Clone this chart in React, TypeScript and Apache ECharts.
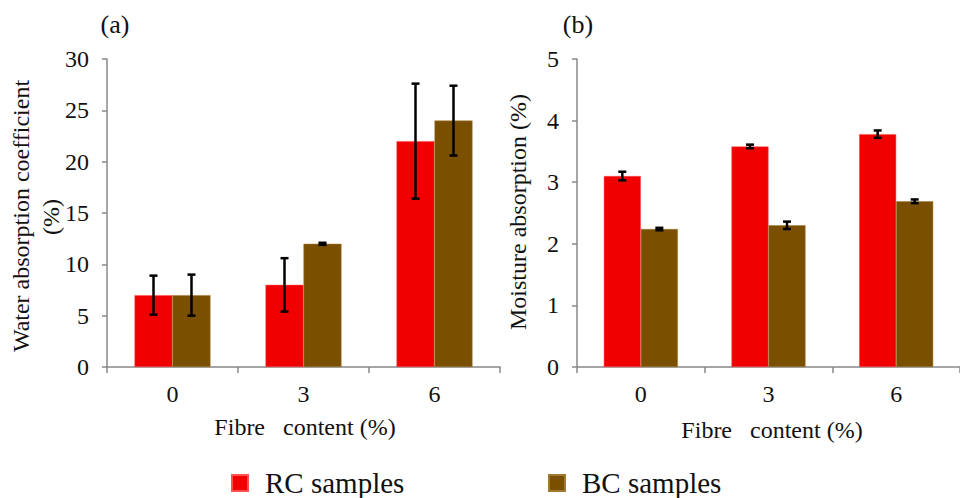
import React, { useEffect, useRef } from "react";
import * as echarts from "echarts";

const categories = ["0", "3", "6"];
const seriesNames = ["RC samples", "BC samples"];
const waterRC = [7, 8, 22];
const waterRCErr = [1.9, 2.6, 5.6];
const waterBC = [7, 12, 24];
const waterBCErr = [2.0, 0.1, 3.4];
const moistRC = [3.1, 3.58, 3.78];
const moistRCErr = [0.07, 0.03, 0.06];
const moistBC = [2.24, 2.3, 2.69];
const moistBCErr = [0.02, 0.06, 0.03];
const yTicksA = [0, 5, 10, 15, 20, 25, 30];
const yTicksB = [0, 1, 2, 3, 4, 5];

const FONT = "Liberation Serif";
const RED = "#f00000";
const BROWN = "#7a4f00";
const AXIS = "#888888";
const BAR_FRAC = 0.29;
const XNAME = "Fibre\u00a0\u00a0 content (%)";

function errData(vals: number[], errs: number[]) {
  return vals.map((v, i) => [i, v - errs[i], v + errs[i]]);
}

function errSeries(vals: number[], errs: number[], sign: number, gi: number) {
  return {
    type: "custom",
    xAxisIndex: gi,
    yAxisIndex: gi,
    silent: true,
    z: 10,
    encode: { x: 0, y: [1, 2] },
    data: errData(vals, errs),
    renderItem: (params: any, api: any) => {
      const idx = api.value(0);
      const lo = api.coord([idx, api.value(1)]);
      const hi = api.coord([idx, api.value(2)]);
      const band = api.size([1, 0])[0];
      const x = lo[0] + (sign * band * BAR_FRAC) / 2;
      const cap = 4;
      const style = { stroke: "#000", lineWidth: 2.5 };
      return {
        type: "group",
        children: [
          { type: "line", shape: { x1: x, y1: lo[1], x2: x, y2: hi[1] }, style },
          { type: "line", shape: { x1: x - cap, y1: lo[1], x2: x + cap, y2: lo[1] }, style },
          { type: "line", shape: { x1: x - cap, y1: hi[1], x2: x + cap, y2: hi[1] }, style },
        ],
      };
    },
  };
}

function xAxis(gi: number) {
  return {
    type: "category",
    gridIndex: gi,
    data: categories,
    boundaryGap: true,
    axisLine: { lineStyle: { color: AXIS, width: 1.5 } },
    axisTick: { show: true, interval: 0, length: 6, lineStyle: { color: AXIS, width: 1.5 } },
    axisLabel: { color: "#111", fontFamily: FONT, fontSize: 24, margin: 15 },
  };
}

function yAxis(gi: number, ticks: number[]) {
  return {
    type: "value",
    gridIndex: gi,
    min: ticks[0],
    max: ticks[ticks.length - 1],
    interval: ticks[1] - ticks[0],
    splitLine: { show: false },
    axisLine: { show: true, lineStyle: { color: AXIS, width: 1.5 } },
    axisTick: { show: true, length: 5, lineStyle: { color: AXIS, width: 1.5 } },
    axisLabel: { color: "#111", fontFamily: FONT, fontSize: 24, margin: 18 },
  };
}

function bar(name: string, data: number[], color: string, gi: number) {
  return {
    name,
    type: "bar",
    xAxisIndex: gi,
    yAxisIndex: gi,
    data,
    barWidth: BAR_FRAC * 100 + "%",
    barGap: "0%",
    itemStyle: { color, borderColor: color === RED ? "#ff5050" : "#a07a30", borderWidth: 0.5 },
  };
}

function txt(text: string, x: number, y: number, size: number, rot = 0) {
  return {
    type: "text",
    x,
    y,
    rotation: rot,
    style: {
      text,
      fontFamily: FONT,
      fontSize: size,
      fill: "#111",
      align: "center",
      verticalAlign: "middle",
    },
  };
}

function legend(name: string, left: number) {
  return {
    data: [name],
    left,
    top: 467,
    padding: 0,
    itemWidth: 16,
    itemHeight: 16,
    itemGap: 0,
    icon: "rect",
    textStyle: { fontFamily: FONT, fontSize: 29, lineHeight: 32, color: "#111", padding: [0, 0, 0, 12] },
  };
}

export default function App() {
  const ref = useRef<HTMLDivElement>(null);
  useEffect(() => {
    document.body.style.margin = "0";
    const chart = echarts.init(ref.current!, null, { renderer: "svg" });
    chart.setOption({
      animation: false,
      backgroundColor: "#ffffff",
      grid: [
        { left: 107, top: 59, width: 393, height: 308 },
        { left: 577, top: 59, width: 392, height: 308 },
      ],
      xAxis: [xAxis(0), xAxis(1)],
      yAxis: [yAxis(0, yTicksA), yAxis(1, yTicksB)],
      legend: [legend(seriesNames[0], 231), legend(seriesNames[1], 548)],
      series: [
        bar(seriesNames[0], waterRC, RED, 0),
        bar(seriesNames[1], waterBC, BROWN, 0),
        bar(seriesNames[0], moistRC, RED, 1),
        bar(seriesNames[1], moistBC, BROWN, 1),
        errSeries(waterRC, waterRCErr, -1, 0),
        errSeries(waterBC, waterBCErr, 1, 0),
        errSeries(moistRC, moistRCErr, -1, 1),
        errSeries(moistBC, moistBCErr, 1, 1),
      ],
      graphic: [
        txt("(a)", 115, 24, 26),
        txt("(b)", 578, 24, 26),
        txt("Water absorption coefficient", 21, 216, 24, Math.PI / 2),
        txt("(%)", 51, 217, 24, Math.PI / 2),
        txt("Moisture absorption (%)", 518, 212, 24, Math.PI / 2),
        txt(XNAME, 305, 427, 24),
        txt(XNAME, 772, 430, 24),
      ],
    });
    return () => chart.dispose();
  }, []);
  return <div ref={ref} style={{ width: 960, height: 498 }} />;
}
